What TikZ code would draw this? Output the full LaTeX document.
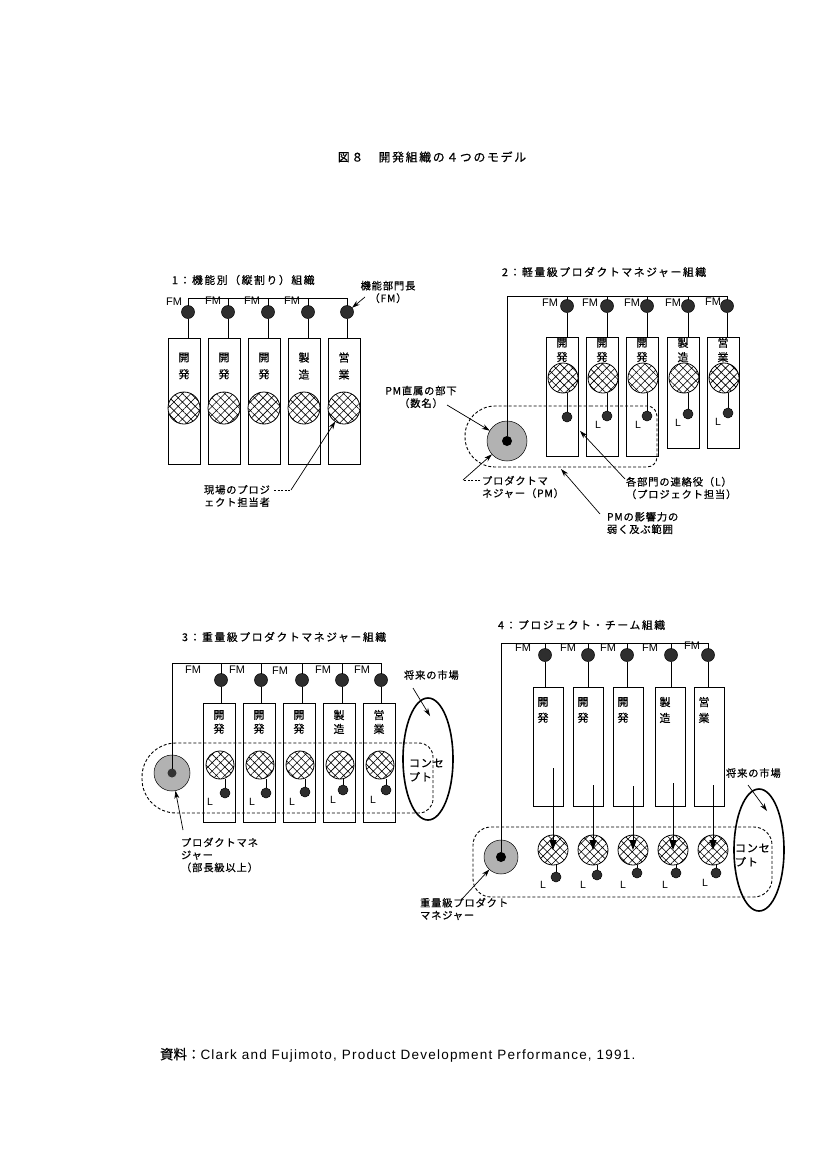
\documentclass[tikz,border=0pt]{standalone}
\usepackage{fontspec}
\setmainfont{Noto Sans CJK JP}
\newfontfamily\jpt[LetterSpace=15,FakeBold=0.6]{Noto Sans CJK JP}
\newfontfamily\jpa[LetterSpace=8,FakeBold=0.5]{Noto Sans CJK JP}
\newfontfamily\jpb[FakeBold=0.5]{Noto Sans CJK JP}
\newfontfamily\latf{Liberation Sans}
\newfontfamily\latw[LetterSpace=9]{Liberation Sans}
\usetikzlibrary{patterns.meta,arrows.meta,shapes.geometric}
\tikzset{
  every node/.style={inner sep=0pt,outer sep=0pt},
  ttl/.style={font=\jpt\fontsize{10.8}{13}\selectfont,anchor=west},
  ann/.style={font=\jpa\fontsize{10.3}{12.5}\selectfont,align=left,anchor=west},
  vt/.style={font=\jpb\fontsize{11}{15}\selectfont,align=center},
  fml/.style={font=\latf\fontsize{11}{12}\selectfont},
  ll/.style={font=\latf\fontsize{10.5}{12}\selectfont},
  fmc/.style={circle,draw,line width=0.5pt,fill=black!82,minimum size=13pt},
  lc/.style={circle,draw,line width=0.5pt,fill=black!82,minimum size=10pt},
  hc/.style={circle,draw,line width=0.8pt,minimum size=31pt,preaction={fill=white},pattern={Hatch[angle=45,distance=6pt,line width=0.6pt]}},
  dept/.style={draw,line width=0.8pt,minimum width=32pt,anchor=north west},
  pmc/.style={circle,draw,line width=0.5pt,fill=black!30,minimum size=40pt},
  pmdot/.style={circle,fill=black,minimum size=10pt},
  ln/.style={line width=0.8pt},
  lead/.style={line width=0.7pt,dash pattern=on 2pt off 1.5pt},
  arr/.style={line width=0.7pt,-{Stealth[length=8pt,width=5pt]}},
  varr/.style={line width=0.8pt,-{Triangle[length=10pt,width=7pt]}},
  region/.style={line width=0.9pt,dash pattern=on 3pt off 2pt},
  mkt/.style={ellipse,draw,line width=1.6pt,minimum width=50pt,minimum height=122pt},
}
\begin{document}
\begin{tikzpicture}[x=1pt,y=-1pt]
\fill[white] (0,0) rectangle (827,1170);
\useasboundingbox (0,0) rectangle (827,1170);

\node[font=\jpt\fontsize{11.8}{14}\selectfont] (title) at (432,157) {図８　開発組織の４つのモデル};

% ---------------- Panel 1
\node[ttl] (p1title) at (172,280) {1：機能別（縦割り）組織};
\coordinate (p1bus) at (0,298);
\foreach \i/\x in {1/168,2/208,3/248,4/288,5/328}{
  \node[dept,minimum height=126pt] (p1b\i) at (\x,338) {};
  \node[hc,minimum size=32pt] (p1h\i) at (\x+16,408) {};
}
\foreach \i/\x/\a/\b in {1/168/開/発,2/208/開/発,3/248/開/発,4/288/製/造,5/328/営/業}{
  \node[vt,font=\jpb\fontsize{11}{17}\selectfont] (p1t\i) at (\x+16,366) {\a\\\b};
}
\foreach \i/\x in {1/188,2/228,3/268,4/308,5/347}{
  \node[fmc] (p1f\i) at (\x,312) {};
  \draw[ln] (p1f\i) -- (p1f\i |- p1b\i.north);
  \draw[ln] (p1f\i) -- (p1f\i |- p1bus);
}
\draw[ln] (p1f1 |- p1bus) -- (p1f5 |- p1bus);
\foreach \i/\x/\y in {1/174/302,2/213/301,3/252/301,4/292/301}{
  \node[fml] (p1m\i) at (\x,\y) {FM};
}
\node[ann,align=center,anchor=center] (p1n1) at (388,292) {機能部門長\\（FM）};
\coordinate (p1k1) at (365,297);
\draw[arr] (p1k1) -- (p1f5);
\node[ann] (p1n2) at (204,496) {現場のプロジ\\ェクト担当者};
\coordinate (p1k20) at (274,490);
\coordinate (p1k2) at (291,490);
\draw[lead] (p1k20) -- (p1k2);
\draw[arr] (p1k2) -- (p1h5);

% ---------------- Panel 2
\node[ttl] (p2title) at (502,272) {2：軽量級プロダクトマネジャー組織};
\coordinate (p2bus) at (0,296);
\draw[region] (560,406) [rounded corners=10pt] -- (657,406) -- (657,467) -- (560,467) [rounded corners=30pt] -- (465,467) -- (465,406) -- cycle;
\coordinate (p2rb) at (561,469);
\foreach \i/\x/\h in {1/546/119,2/586/119,3/626/119,4/667/111,5/707/111}{
  \node[dept,minimum height=\h pt] (p2b\i) at (\x,337) {};
  \node[hc,minimum size=30pt] (p2h\i) at (\x+17,378) {};
}
\foreach \i/\x/\a/\b in {1/546/開/発,2/586/開/発,3/626/開/発,4/667/製/造,5/707/営/業}{
  \node[vt,font=\jpb\fontsize{11}{14.5}\selectfont] (p2t\i) at (\x+16,350) {\a\\\b};
}
\foreach \i/\x in {1/567,2/607,3/647,4/688,5/727}{
  \node[fmc] (p2f\i) at (\x,306) {};
  \draw[ln] (p2f\i) -- (p2f\i |- p2b\i.north);
}
\foreach \i in {1,2,3,4}{
  \draw[ln] (p2f\i) -- (p2f\i |- p2bus);
}
\foreach \i/\x/\y in {1/550/303,2/590/303,3/632/303,4/673/303,5/713/302}{
  \node[fml] (p2m\i) at (\x,\y) {FM};
}
\foreach \i/\x/\y in {1/567/417,2/607/416,3/647/416,4/688/414,5/728/413}{
  \node[lc] (p2l\i) at (\x,\y) {};
  \draw[ln] (p2l\i) -- (p2l\i |- p2h\i.south);
}
\foreach \i/\x/\y in {2/598/425,3/638/425,4/678/423,5/718/422}{
  \node[ll] (p2ll\i) at (\x,\y) {L};
}
\node[pmc] (p2pm) at (507,441) {};
\node[pmdot] (p2pmd) at (507,441) {};
\draw[ln] (p2pmd) -- (p2pmd |- p2bus) -- (p2f5 |- p2bus) -- (p2f5);
\node[ann,align=center,anchor=center] (p2n1) at (421,397) {PM直属の部下\\（数名）};
\coordinate (p2k1) at (447,405);
\draw[arr] (p2k1) -- (p2pm);
\node[ann] (p2n2) at (482,487) {プロダクトマ\\ネジャー（PM）};
\coordinate (p2k20) at (480,480);
\coordinate (p2k2) at (463,480);
\draw[lead] (p2k20) -- (p2k2);
\draw[arr] (p2k2) -- (p2pm);
\node[ann] (p2n3) at (626,488) {各部門の連絡役（L）\\（プロジェクト担当）};
\coordinate (p2k3) at (625,479);
\draw[arr,shorten >=14pt] (p2k3) -- (p2l1);
\node[ann] (p2n4) at (607,523) {PMの影響力の\\弱く及ぶ範囲};
\coordinate (p2k4) at (600,514);
\draw[arr] (p2k4) -- (p2rb);

% ---------------- Panel 3
\node[ttl] (p3title) at (182,637) {3：重量級プロダクトマネジャー組織};
\coordinate (p3bus) at (0,663);
\draw[region] (300,743) [rounded corners=14pt] -- (433,743) -- (433,813) -- (300,813) [rounded corners=34pt] -- (142,813) -- (142,743) -- cycle;
\foreach \i/\x in {1/203,2/243,3/283,4/323,5/363}{
  \node[dept,minimum height=119pt] (p3b\i) at (\x,703) {};
  \node[hc,minimum size=28pt] (p3h\i) at (\x+17,765) {};
}
\foreach \i/\x/\a/\b in {1/203/開/発,2/243/開/発,3/283/開/発,4/323/製/造,5/363/営/業}{
  \node[vt,font=\jpb\fontsize{11}{14}\selectfont] (p3t\i) at (\x+16,722) {\a\\\b};
}
\foreach \i/\x in {1/221,2/261,3/302,4/342,5/381}{
  \node[fmc] (p3f\i) at (\x,680) {};
  \draw[ln] (p3f\i) -- (p3f\i |- p3b\i.north);
}
\foreach \i in {1,2,3,4}{
  \draw[ln] (p3f\i) -- (p3f\i |- p3bus);
}
\foreach \i/\x/\y in {1/193/670,2/237/670,3/280/671,4/323/670,5/362/670}{
  \node[fml] (p3m\i) at (\x,\y) {FM};
}
\foreach \i/\x/\y in {1/225/793,2/266/793,3/305/792,4/343/790,5/386/790}{
  \node[lc] (p3l\i) at (\x,\y) {};
  \draw[ln] (p3l\i) -- (p3l\i |- p3h\i.south);
}
\foreach \i/\x/\y in {1/210/802,2/252/802,3/292/802,4/333/800,5/373/800}{
  \node[ll] (p3ll\i) at (\x,\y) {L};
}
\node[pmc,minimum size=36pt] (p3pm) at (172,773) {};
\node[pmdot,minimum size=9pt,fill=black!80] (p3pmd) at (172,773) {};
\draw[ln] (p3pmd) -- (p3pmd |- p3bus) -- (p3f5 |- p3bus) -- (p3f5);
\node[mkt] (p3mk) at (428,759) {};
\node[ann,font=\jpa\fontsize{11}{14}\selectfont] (p3c) at (409,770) {コンセ\\プト};
\node[ann] (p3n1) at (404,675) {将来の市場};
\coordinate (p3k1) at (413,688);
\coordinate (p3k2) at (430,716);
\draw[arr] (p3k1) -- (p3k2);
\node[ann] (p3n2) at (181,855) {プロダクトマネ\\ジャー\\（部長級以上）};
\coordinate (p3k3) at (183,830);
\draw[arr] (p3k3) -- (p3pm);

% ---------------- Panel 4
\node[ttl] (p4title) at (498,625) {4：プロジェクト・チーム組織};
\coordinate (p4bus) at (0,643);
\draw[region] (620,827) [rounded corners=18pt] -- (772,827) -- (772,897) -- (473,897) -- (473,827) -- cycle;
\foreach \i/\x in {1/533,2/573,3/613,4/655,5/694}{
  \node[dept,minimum width=30pt,minimum height=119pt] (p4b\i) at (\x,687) {};
}
\foreach \i/\x/\a/\b in {1/533/開/発,2/573/開/発,3/613/開/発,4/655/製/造,5/694/営/業}{
  \node[vt,font=\jpb\fontsize{11}{16}\selectfont] (p4t\i) at (\x+10,710) {\a\\\b};
}
\foreach \i/\x in {1/545,2/588,3/627,4/671,5/708}{
  \node[fmc] (p4f\i) at (\x,655) {};
  \draw[ln] (p4f\i) -- (p4f\i |- p4b\i.north);
}
\foreach \i in {1,2,3,4}{
  \draw[ln] (p4f\i) -- (p4f\i |- p4bus);
}
\foreach \i/\x/\y in {1/523/648,2/568/648,3/608/648,4/650/648,5/692/646}{
  \node[fml] (p4m\i) at (\x,\y) {FM};
}
\foreach \i/\x/\y in {1/553/768,2/593/785,3/633/786,4/673/783,5/713/785}{
  \node[hc,minimum size=30pt] (p4h\i) at (\x,850) {};
  \coordinate (p4s\i) at (\x,\y);
}
\foreach \i/\x/\y in {1/556/877,2/597/875,3/637/873,4/676/873,5/716/873}{
  \node[lc] (p4l\i) at (\x,\y) {};
  \draw[ln] (p4l\i) -- (p4l\i |- p4h\i.south);
}
\foreach \i in {1,2,3,4,5}{
  \draw[varr] (p4s\i) -- (p4h\i.center);
}
\foreach \i/\x/\y in {1/543/885,2/583/885,3/623/885,4/665/885,5/705/883}{
  \node[ll] (p4ll\i) at (\x,\y) {L};
}
\node[pmc,minimum size=34pt] (p4pm) at (501,857) {};
\node[pmdot] (p4pmd) at (501,857) {};
\draw[ln] (p4pmd) -- (p4pmd |- p4bus) -- (p4f5 |- p4bus) -- (p4f5);
\node[mkt] (p4mk) at (759,850) {};
\node[ann,font=\jpa\fontsize{11}{14}\selectfont] (p4c) at (735,855) {コンセ\\プト};
\node[ann] (p4n1) at (726,773) {将来の市場};
\coordinate (p4k1) at (748,785);
\coordinate (p4k2) at (767,811);
\draw[arr] (p4k1) -- (p4k2);
\node[ann] (p4n2) at (420,909) {重量級プロダクト\\マネジャー};
\coordinate (p4k3) at (462,899);
\draw[arr] (p4k3) -- (p4pm);

% ---------------- Footer
\node[anchor=west] (foot) at (160,1055) {{\jpb\fontsize{13.5}{15}\selectfont 資料：}{\latw\fontsize{13.5}{15}\selectfont Clark and Fujimoto, Product Development Performance, 1991.}};
\end{tikzpicture}
\end{document}
